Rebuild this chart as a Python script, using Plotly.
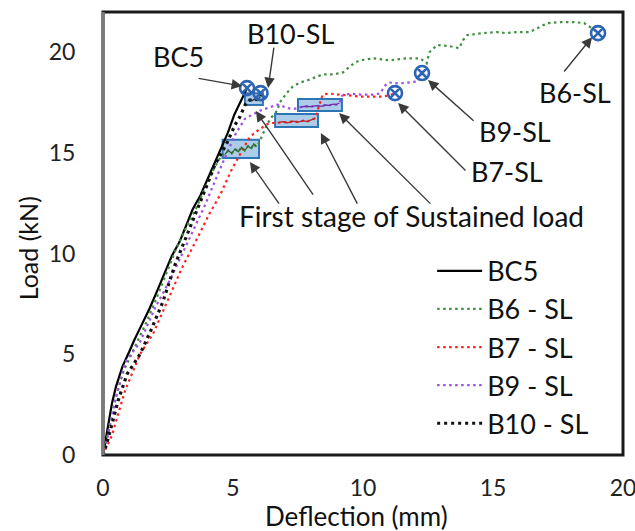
import plotly.graph_objects as go

# ---- measured load-deflection data (deflection in mm, load in kN) ----
bc5_x = [0, 0.08, 0.2, 0.35, 0.5, 0.75, 1.0, 1.2, 1.5, 1.8, 2.1, 2.4, 2.65, 2.95,
         3.2, 3.45, 3.75, 4.05, 4.3, 4.55, 4.8, 5.05, 5.3, 5.54]
bc5_y = [0, 0.6, 1.6, 2.6, 3.4, 4.4, 5.1, 5.7, 6.5, 7.3, 8.2, 9.1, 9.9, 10.6,
         11.4, 12.2, 12.9, 13.8, 14.5, 15.3, 16.0, 16.9, 17.6, 18.22]

# B6 - SL: loading, first sustained-load stage, reloading to failure
b6_load_x = [0, 0.1, 0.3, 0.5, 0.8, 1.2, 1.6, 2.0, 2.4, 2.8, 3.2, 3.6, 4.0, 4.3, 4.55]
b6_load_y = [0, 0.5, 1.8, 2.9, 4.2, 5.3, 6.4, 7.6, 8.9, 10.2, 11.3, 12.3, 13.5, 14.3, 14.85]
b6_hold_x = [4.7, 4.82, 4.95, 5.08, 5.2, 5.33, 5.45, 5.58, 5.7, 5.8, 5.9]
b6_hold_y = [14.95, 15.12, 14.98, 15.2, 15.06, 15.28, 15.12, 15.34, 15.22, 15.45, 15.3]
b6_post_x = [6.0, 6.15, 6.3, 6.5, 6.7, 6.8, 7.08, 7.3, 7.58, 7.85, 8.08, 8.46, 8.85,
             9.23, 9.5, 9.7, 9.9, 10.4, 11.0, 11.7, 12.2, 12.45, 12.55, 12.85, 13.35,
             13.7, 13.85, 14.0, 14.6, 15.15, 15.5, 15.9, 16.4, 16.7, 17.1, 17.6, 18.1,
             18.5, 18.8, 19.04]
b6_post_y = [15.5, 16.0, 16.4, 16.8, 17.1, 17.5, 18.0, 18.3, 18.5, 18.6, 18.7, 18.9, 18.9,
             19.0, 19.3, 19.5, 19.6, 19.7, 19.6, 19.7, 19.7, 19.45, 20.0, 20.36, 20.3,
             20.2, 20.6, 20.85, 20.95, 21.0, 20.95, 21.0, 21.0, 21.2, 21.45, 21.5, 21.5,
             21.45, 21.2, 20.95]

# B7 - SL
b7_load_x = [0, 0.15, 0.35, 0.85, 1.42, 1.92, 2.46, 3.04, 3.6, 4.1, 4.5, 4.96, 5.3,
             5.65, 6.04, 6.35, 6.6]
b7_load_y = [0, 0.4, 1.0, 3.2, 5.0, 6.0, 7.6, 9.3, 10.7, 12.0, 12.9, 14.2, 15.0,
             15.8, 16.2, 16.45, 16.5]
b7_hold_x = [6.72, 6.9, 7.1, 7.3, 7.5, 7.7, 7.85, 8.0, 8.1, 8.17]
b7_hold_y = [16.49, 16.55, 16.5, 16.58, 16.53, 16.6, 16.56, 16.64, 16.68, 16.73]
b7_post_x = [8.3, 8.45, 8.7, 9.1, 9.5, 9.9, 10.3, 10.7, 11.0, 11.23]
b7_post_y = [17.3, 17.9, 17.95, 17.9, 17.85, 17.8, 17.8, 17.8, 17.85, 17.97]

# B9 - SL
b9_load_x = [0, 0.2, 0.45, 0.85, 1.42, 2.0, 2.58, 3.08, 3.54, 3.92, 4.5, 5.08, 5.46,
             6.04, 6.7, 7.2, 7.5]
b9_load_y = [0, 1.0, 2.6, 4.6, 5.6, 7.3, 8.7, 10.1, 11.3, 12.4, 14.2, 15.9, 16.7,
             17.1, 17.4, 17.2, 17.2]
b9_hold_x = [7.6, 7.8, 8.0, 8.2, 8.4, 8.55, 8.7, 8.85, 8.97, 9.09]
b9_hold_y = [17.28, 17.32, 17.3, 17.35, 17.31, 17.38, 17.36, 17.42, 17.4, 17.48]
b9_post_x = [9.2, 9.5, 9.9, 10.4, 10.65, 10.85, 11.0, 11.4, 11.7, 12.1, 12.27]
b9_post_y = [17.85, 17.95, 17.9, 17.9, 17.95, 18.35, 18.5, 18.45, 18.5, 18.55, 18.97]

# B10 - SL
b10_load_x = [0, 0.15, 0.38, 0.58, 0.92, 1.42, 1.88, 2.3, 2.77, 3.23, 3.65, 4.0, 4.3,
              4.77, 5.08, 5.27, 5.45]
b10_load_y = [0, 0.6, 1.7, 2.7, 4.0, 5.0, 6.3, 7.6, 9.45, 10.9, 12.3, 13.4, 14.4,
              15.5, 16.4, 16.8, 17.35]
b10_hold_x = [5.56, 5.65, 5.74, 5.83, 5.92, 6.0, 6.05]
b10_hold_y = [17.58, 17.63, 17.6, 17.68, 17.65, 17.72, 17.77]
b10_post_x = [6.06]
b10_post_y = [17.97]

x_ticks = [0, 5, 10, 15, 20]
y_ticks = [0, 5, 10, 15, 20]

FONT = "Lato"
BLUE = "#2E64B4"

series = [
    dict(name="BC5", x=bc5_x, y=bc5_y, color="#000000", width=2.2, dash="solid",
         hold=None),
    dict(name="B6 - SL", x=b6_load_x + b6_hold_x + b6_post_x,
         y=b6_load_y + b6_hold_y + b6_post_y, color="#3F8F3F", width=2.2,
         dash="2.5px,3.5px", hold=(b6_hold_x, b6_hold_y, "#2E6B30")),
    dict(name="B7 - SL", x=b7_load_x + b7_hold_x + b7_post_x,
         y=b7_load_y + b7_hold_y + b7_post_y, color="#FF2020", width=2.2,
         dash="2.5px,3.5px", hold=(b7_hold_x, b7_hold_y, "#B8282D")),
    dict(name="B9 - SL", x=b9_load_x + b9_hold_x + b9_post_x,
         y=b9_load_y + b9_hold_y + b9_post_y, color="#A050E0", width=2.2,
         dash="2.5px,3.5px", hold=(b9_hold_x, b9_hold_y, "#7030A8")),
    dict(name="B10 - SL", x=b10_load_x + b10_hold_x + b10_post_x,
         y=b10_load_y + b10_hold_y + b10_post_y, color="#111111", width=3.2,
         dash="3px,4px", hold=(b10_hold_x, b10_hold_y, "#1F3050")),
]

fig = go.Figure()

for s in series:
    fig.add_trace(go.Scatter(
        x=s["x"], y=s["y"], mode="lines", name=s["name"],
        legendgroup=s["name"],
        line=dict(color=s["color"], width=s["width"], dash=s["dash"]),
    ))

# sustained-load windows: shaded boxes around the first holding stage
pad_x, pad_y = 0.1, 0.2
for s in series:
    if s["hold"] is None:
        continue
    hx, hy, hcol = s["hold"]
    fig.add_shape(type="rect", xref="x", yref="y",
                  x0=min(hx) - pad_x, x1=max(hx) + pad_x,
                  y0=min(hy) - pad_y, y1=max(hy) + pad_y,
                  line=dict(color="#2E75B6", width=2),
                  fillcolor="rgba(157,195,230,0.85)", layer="below")
    fig.add_trace(go.Scatter(x=hx, y=hy, mode="lines", showlegend=False,
                             hoverinfo="skip",
                             line=dict(color=hcol, width=1.3)))

# failure points (last recorded point of every beam)
fig.add_trace(go.Scatter(
    x=[s["x"][-1] for s in series], y=[s["y"][-1] for s in series],
    mode="markers", showlegend=False,
    marker=dict(symbol="circle-x-open", size=14, color=BLUE,
                line=dict(color=BLUE, width=2.6)),
))

# ---- labels and arrows ----
def arrow(hx, hy, tx, ty):
    fig.add_annotation(x=hx, y=hy, ax=tx, ay=ty, xref="x", yref="y",
                       axref="x", ayref="y", text="", showarrow=True,
                       arrowhead=2, arrowsize=1.5, arrowwidth=1.4,
                       arrowcolor="#3a3a3a", standoff=0, startstandoff=0)

def label(x, y, text, size=27):
    fig.add_annotation(x=x, y=y, xref="x", yref="y", text=text, showarrow=False,
                       xanchor="center", yanchor="middle",
                       font=dict(family=FONT, size=size, color="#111111"))

label(2.92, 19.81, "BC5")
label(7.23, 20.95, "B10-SL")
label(15.85, 16.09, "B9-SL")
label(15.54, 14.10, "B7-SL")
label(18.15, 18.02, "B6-SL")
label(11.85, 11.87, "First stage of Sustained load", size=28)

arrow(5.35, 18.32, 3.62, 18.72)    # BC5
arrow(6.35, 18.22, 6.58, 20.31)    # B10-SL
arrow(12.50, 18.62, 14.31, 16.53)  # B9-SL
arrow(11.35, 17.48, 14.00, 14.05)  # B7-SL
arrow(18.81, 20.75, 17.69, 18.97)  # B6-SL
arrow(5.65, 14.55, 6.81, 12.41)    # sustained window of B6
arrow(5.88, 17.08, 8.12, 12.86)    # sustained window of B10
arrow(8.38, 15.99, 9.81, 12.41)    # sustained window of B7
arrow(9.08, 16.98, 12.65, 12.41)   # sustained window of B9

# axis titles
fig.add_annotation(x=0.488, y=-0.137, xref="paper", yref="paper",
                   xanchor="center", yanchor="middle",
                   text="Deflection (mm)", showarrow=False,
                   font=dict(family=FONT, size=26, color="#111111"))
fig.add_annotation(x=-0.144, y=0.467, xref="paper", yref="paper",
                   xanchor="center", yanchor="middle",
                   text="Load (kN)", textangle=-90, showarrow=False,
                   font=dict(family=FONT, size=25, color="#111111"))

# plot-area frame
fig.add_shape(type="rect", xref="paper", yref="paper", x0=0, x1=1, y0=0, y1=1,
              line=dict(color="#1a1a1a", width=3), layer="above")
fig.add_shape(type="line", xref="paper", yref="paper", x0=0, x1=0, y0=0, y1=1,
              line=dict(color="#7a7a7a", width=3.5), layer="above")

fig.update_layout(
    width=635, height=531,
    margin=dict(l=103, r=12, t=12, b=76, autoexpand=False),
    paper_bgcolor="white", plot_bgcolor="white",
    font=dict(family=FONT, size=23, color="#222222"),
    showlegend=True,
    legend=dict(x=0.633, y=0.47, xanchor="left", yanchor="top",
                font=dict(family=FONT, size=27, color="#111111"),
                itemwidth=45, bgcolor="rgba(0,0,0,0)", tracegroupgap=0),
    xaxis=dict(range=[0, 20], tickvals=x_ticks, showgrid=False, zeroline=False,
               showline=False, ticks="outside", ticklen=12, automargin=False,
               tickcolor="rgba(0,0,0,0)", ticklabeloverflow="allow",
               tickfont=dict(family=FONT, size=23, color="#222222")),
    yaxis=dict(range=[0, 22], tickvals=y_ticks, showgrid=False, zeroline=False,
               showline=False, ticks="outside", ticklen=22, automargin=False,
               tickcolor="rgba(0,0,0,0)",
               tickfont=dict(family=FONT, size=23, color="#222222")),
)

fig.write_html("out.html")
